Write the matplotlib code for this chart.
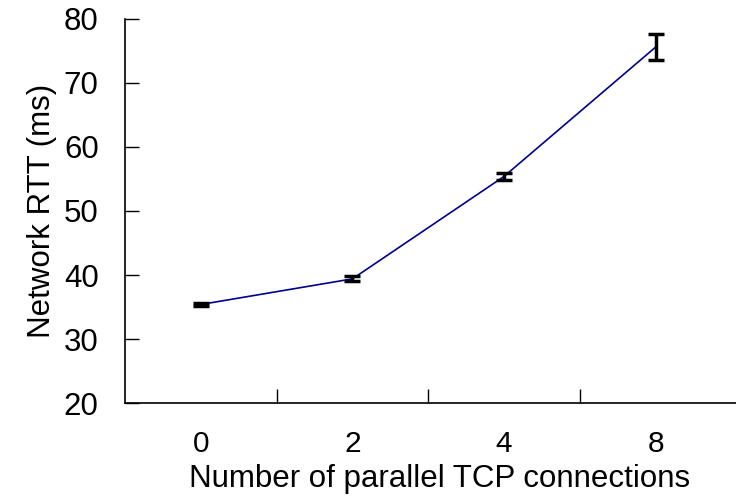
import matplotlib
matplotlib.use("Agg")
import matplotlib.pyplot as plt
import numpy as np

categories = ["0", "2", "4", "8"]
rtt = [35.4, 39.4, 55.4, 75.6]
err = [0.2, 0.4, 0.5, 2.0]

plt.rcParams['font.family'] = ['Liberation Sans', 'DejaVu Sans']

fig = plt.figure(figsize=(7.36, 4.97), dpi=100)
ax = fig.add_axes([0.170, 0.189, 0.830, 0.773])

x = np.arange(len(categories))
ax.plot(x, rtt, color='#00008f', linewidth=1.2, zorder=2)
ax.errorbar(x, rtt, yerr=err, fmt='none', ecolor='black', elinewidth=2.5,
            capsize=6, capthick=2.5, zorder=3)

ax.set_xlim(-0.5, 3.53)
ax.set_ylim(20, 80)
ax.set_yticks(range(20, 81, 10))
ax.set_xticks(x)
ax.set_xticklabels(categories)
ax.set_xticks([0.5, 1.5, 2.5], minor=True)
ax.tick_params(axis='x', which='major', length=0, pad=19.5, labelsize=21.5)
ax.tick_params(axis='x', which='minor', direction='in', length=10, width=1)
ax.tick_params(axis='y', direction='in', length=10, width=1, pad=19, labelsize=22.5)

for s in ['top', 'right']:
    ax.spines[s].set_visible(False)
for s in ['left', 'bottom']:
    ax.spines[s].set_linewidth(1.2)

ax.set_xlabel("Number of parallel TCP connections", fontsize=22.5)
ax.xaxis.set_label_coords(0.515, -0.158)
ax.set_ylabel("Network RTT (ms)", fontsize=22.5, labelpad=5)

fig.savefig("out.png", dpi=100)
